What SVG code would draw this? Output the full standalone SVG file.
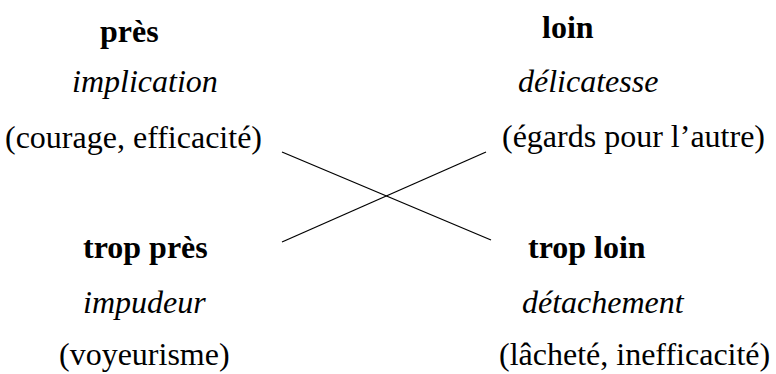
<svg xmlns="http://www.w3.org/2000/svg" width="776" height="374" viewBox="0 0 776 374">
<style>
text{font-family:"Liberation Serif","Times New Roman",serif;font-size:32px;fill:#000}
.b{font-weight:bold}
.i{font-style:italic}
.c{stroke:#000;stroke-width:1.3;fill:none}
</style>
<rect width="776" height="374" fill="#fff"/>
<g id="pres">
<text class="b" x="100" y="42">près</text>
<text class="i" x="72" y="92">implication</text>
<text x="5" y="148">(courage, efficacité)</text>
</g>
<g id="loin">
<text class="b" x="542" y="38">loin</text>
<text class="i" x="518" y="92">délicatesse</text>
<text x="502" y="147">(égards pour l’autre)</text>
</g>
<g id="trop-pres">
<text class="b" x="83" y="258">trop près</text>
<text class="i" x="83" y="313">impudeur</text>
<text x="59" y="365">(voyeurisme)</text>
</g>
<g id="trop-loin">
<text class="b" x="528" y="258">trop loin</text>
<text class="i" x="522" y="313">détachement</text>
<text x="499" y="365">(lâcheté, inefficacité)</text>
</g>
<g id="connectors">
<line class="c" x1="282" y1="152" x2="491" y2="240"/>
<line class="c" x1="282" y1="242" x2="486" y2="152"/>
</g>
</svg>
